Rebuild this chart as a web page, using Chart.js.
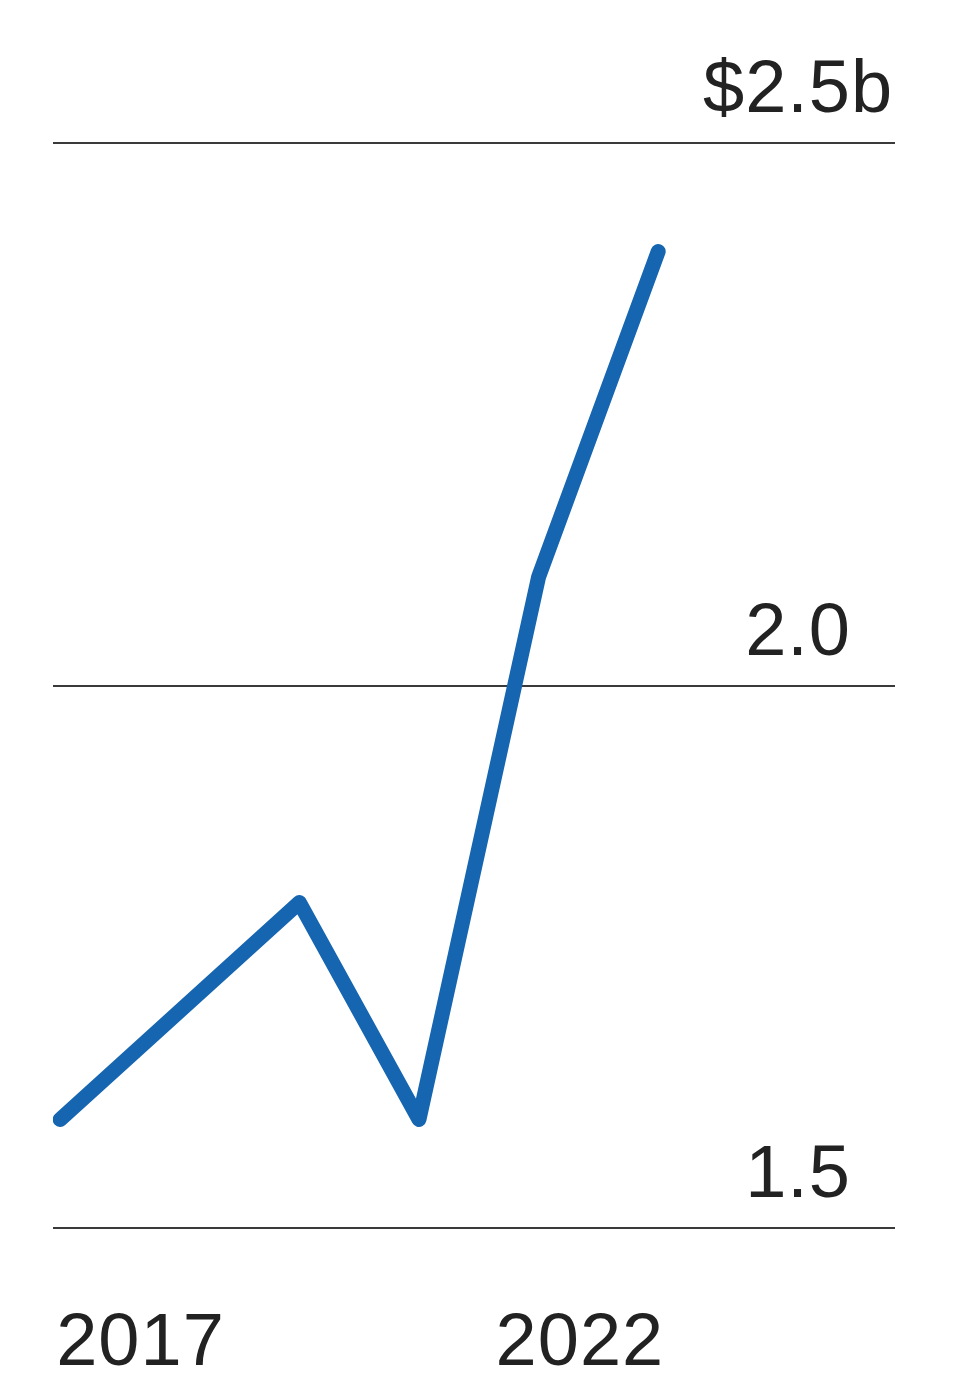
<!DOCTYPE html>
<html>
<head>
<meta charset="utf-8">
<script src="https://cdn.jsdelivr.net/npm/chart.js@4.4.0/dist/chart.umd.min.js"></script>
<style>
  html, body { margin: 0; padding: 0; background: #fff; }
  #wrap { width: 954px; height: 1374px; position: relative; }
</style>
</head>
<body>
<div id="wrap"><canvas id="revenueChart"></canvas></div>
<script>
/* ---- Data ---- */
const years = [2017, 2018, 2019, 2020, 2021, 2022];
const revenue = [1.60, 1.70, 1.80, 1.60, 2.10, 2.40];   // $ billions
const yTicks = [1.5, 2.0, 2.5];
const yTickLabels = ["1.5", "2.0", "2.5"];
const yPrefix = "$";
const ySuffix = "b";
const xTickLabels = ["2017", "2022"];

const LABEL_FONT = '74px "Liberation Sans", Arial, Helvetica, sans-serif';
const INK = "#222";

/* ---- Tick labels drawn by hand: above gridlines, years aligned to the ends ---- */
const labelPlugin = {
  id: "labels",
  afterDraw(chart) {
    const { ctx, scales: { x, y } } = chart;
    ctx.save();
    ctx.font = LABEL_FONT;
    ctx.letterSpacing = "1px";
    ctx.fillStyle = INK;
    ctx.textBaseline = "alphabetic";

    // value labels: numbers right-aligned, unit hangs past them on the top one
    const numRight = x.right - 44;
    yTicks.forEach((v, i) => {
      const py = y.getPixelForValue(v) - 31;
      const top = i === yTicks.length - 1;
      ctx.textAlign = "right";
      ctx.fillText(yTickLabels[i], numRight, py);
      if (top) {
        const w = ctx.measureText(yTickLabels[i]).width;
        ctx.fillText(yPrefix, numRight - w, py);
        ctx.textAlign = "left";
        ctx.fillText(ySuffix, numRight, py);
      }
    });

    // year labels
    const yb = y.bottom + 137;
    ctx.textAlign = "left";
    ctx.fillText(xTickLabels[0], x.getPixelForValue(Number(xTickLabels[0])) - 4, yb);
    ctx.textAlign = "right";
    ctx.fillText(xTickLabels[1], x.getPixelForValue(Number(xTickLabels[1])) + 6, yb);
    ctx.restore();
  }
};

new Chart(document.getElementById("revenueChart"), {
  type: "line",
  data: {
    datasets: [{
      data: years.map((yr, i) => ({ x: yr, y: revenue[i] })),
      borderColor: "#1565b0",
      borderWidth: 15,
      borderCapStyle: "round",
      borderJoinStyle: "round",
      pointRadius: 0,
      tension: 0,
      fill: false
    }]
  },
  options: {
    responsive: true,
    maintainAspectRatio: false,
    animation: false,
    layout: { padding: { left: 53, right: 59, top: 143, bottom: 146 } },
    plugins: { legend: { display: false }, tooltip: { enabled: false } },
    scales: {
      x: {
        type: "linear",
        display: false,
        min: 2016.94,
        max: 2023.98
      },
      y: {
        min: 1.5,
        max: 2.5,
        afterBuildTicks: (axis) => { axis.ticks = yTicks.map(v => ({ value: v })); },
        ticks: { display: false },
        border: { display: false },
        grid: { color: "#3a3a3a", lineWidth: 2, drawTicks: false }
      }
    }
  },
  plugins: [labelPlugin]
});
</script>
</body>
</html>
